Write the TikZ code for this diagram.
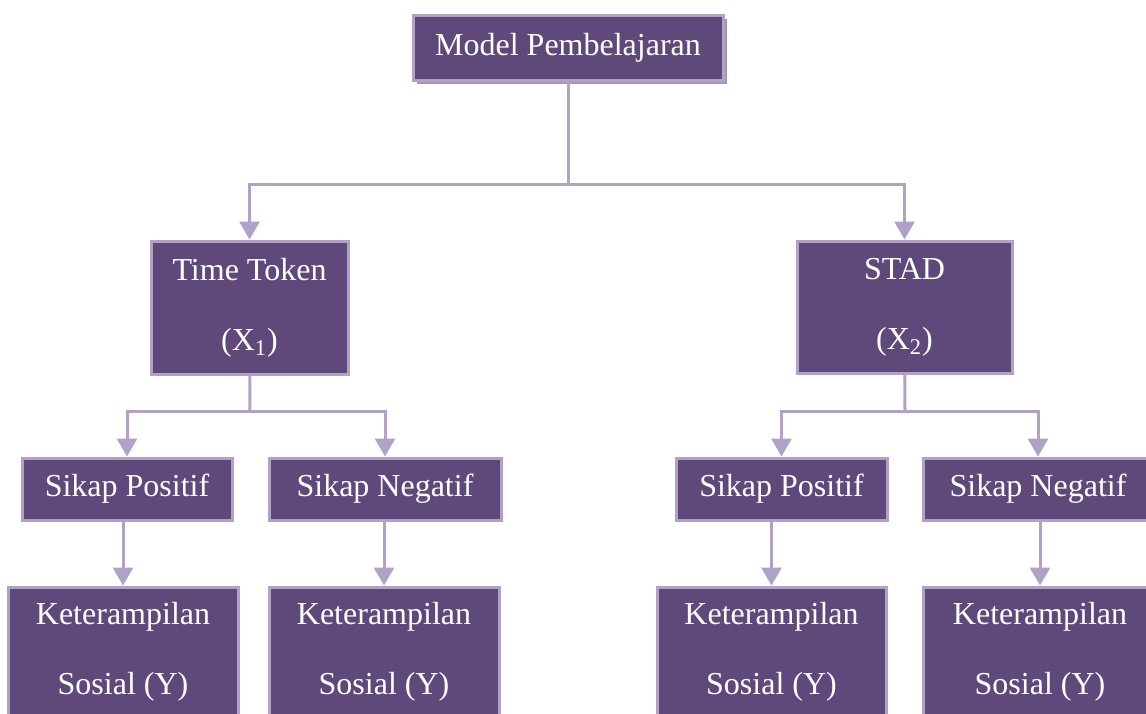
\documentclass[tikz,border=0pt]{standalone}
\usepackage{fontspec}
\setmainfont{Liberation Serif}
\usetikzlibrary{arrows.meta,shadows}
\definecolor{boxfill}{HTML}{5F497A}
\definecolor{boxline}{HTML}{B2A1C7}
\definecolor{boxshade}{HTML}{A396B6}
\tikzset{
  box/.style args={#1/#2}{% #1=width, #2=height
    draw=boxline, line width=1.5pt, fill=boxfill, text=white,
    minimum width=#1*0.5pt, minimum height=#2*0.5pt, inner sep=0pt,
    align=center, font=\fontsize{16}{35}\selectfont
  },
  link/.style={draw=boxline, line width=1.5pt},
  arr/.style={link, -{Triangle[width=10pt,length=9pt]}}
}
\begin{document}
\begin{tikzpicture}[x=0.5pt, y=-0.5pt]
  \useasboundingbox (0, 0) rectangle (1146, 713);
  \clip (0, 0) rectangle (1146, 713);
  \node[box={310/65}, drop shadow={shadow xshift=2.2pt, shadow yshift=-2.2pt, fill=boxshade, opacity=1}] (model) at (568, 47.5) {Model Pembelajaran};
  \node[box={197/133}] (token) at (249.5, 307.5) {Time Token\\(X\textsubscript{1})};
  \node[box={215/132}] (stad) at (904.5, 307) {STAD\\(X\textsubscript{2})};
  \node[box={210/62}] (pos1) at (127, 489) {Sikap Positif};
  \node[box={232/62}] (neg1) at (385, 489) {Sikap Negatif};
  \node[box={211/62}] (pos2) at (781.5, 489) {Sikap Positif};
  \node[box={230/62}] (neg2) at (1038, 489) {Sikap Negatif};
  \node[box={230/130}] (skill1) at (123, 652) {Keterampilan\\Sosial (Y)};
  \node[box={230/130}] (skill2) at (384, 652) {Keterampilan\\Sosial (Y)};
  \node[box={229/130}] (skill3) at (771.5, 652) {Keterampilan\\Sosial (Y)};
  \node[box={234/130}] (skill4) at (1040, 652) {Keterampilan\\Sosial (Y)};
  % branch points
  \coordinate (split0) at (568, 184);
  \coordinate (split1) at (250, 411);
  \coordinate (split2) at (905, 411);
  \draw[link] (model) -- (split0);
  \draw[arr] (split0) -| (token);
  \draw[arr] (split0) -| (stad);
  \draw[link] (token) -- (split1);
  \draw[arr] (split1) -| (pos1);
  \draw[arr] (split1) -| (neg1);
  \draw[link] (stad) -- (split2);
  \draw[arr] (split2) -| (pos2);
  \draw[arr] (split2) -| (neg2);
  \draw[arr] (pos1.south -| skill1.north) -- (skill1);
  \draw[arr] (neg1.south -| skill2.north) -- (skill2);
  \draw[arr] (pos2.south -| skill3.north) -- (skill3);
  \draw[arr] (neg2.south -| skill4.north) -- (skill4);
\end{tikzpicture}
\end{document}
